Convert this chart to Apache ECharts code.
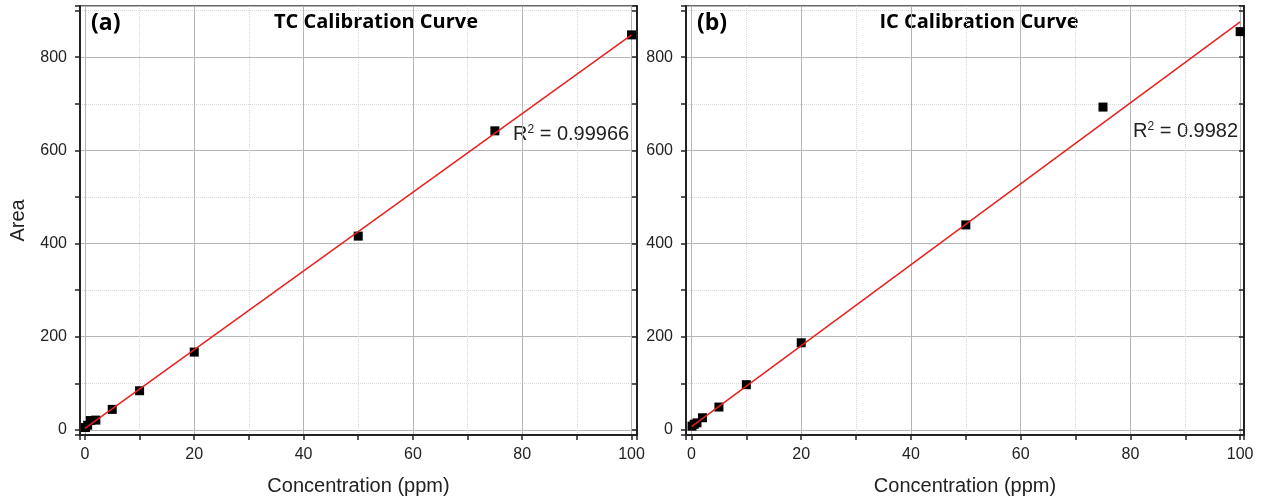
<!DOCTYPE html>
<html>
<head>
<meta charset="utf-8">
<script src="https://cdn.jsdelivr.net/npm/echarts@6/dist/echarts.min.js"></script>
<style>
  html, body { margin: 0; padding: 0; background: #fff; }
  #chart { width: 1264px; height: 502px; }
</style>
</head>
<body>
<div id="chart"></div>
<script>
// concentrations (ppm)
const conc = [0.1, 0.5, 1, 2, 5, 10, 20, 50, 75, 100]
// TC areas
const tcArea = [5, 10, 20, 21, 44, 84, 167, 416, 642, 848]
// IC areas
const icArea = [8, 12, 15, 26, 49, 97, 187, 440, 693, 855]
// fitted lines, ends
const fitX = [0, 100]
const tcFitY = [3, 848]
const icFitY = [7, 876]
const titles = ['TC Calibration Curve', 'IC Calibration Curve']
const tags = ['(a)', '(b)']
const r2 = ['0.99966', '0.9982']

const font = '"Liberation Sans", Arial, sans-serif'
const titleFont = '"Open Sans", "Noto Sans", sans-serif'

function pairs(xs, ys) {
  return xs.map((x, i) => [x, ys[i]])
}

const grids = [
  { left: 80, top: 6, width: 557, height: 429 },
  { left: 686, top: 6, width: 558, height: 429 }
]

function xAxis(gi, min, max) {
  return [
    {
      type: 'value', gridIndex: gi, min: min, max: max,
      name: 'Concentration (ppm)', nameLocation: 'middle', nameGap: 41,
      nameTextStyle: { fontFamily: font, fontSize: 20, color: '#222' },
      axisLine: { show: true, onZero: false, lineStyle: { color: '#222', width: 2 } },
      axisTick: { show: true, length: 5, lineStyle: { color: '#222', width: 1.5 } },
      minorTick: { show: true, splitNumber: 2, length: 5, lineStyle: { color: '#222', width: 1.5 } },
      axisLabel: { fontFamily: font, fontSize: 16, color: '#222', margin: 12, showMinLabel: false, showMaxLabel: false,
        formatter: v => (v % 20 === 0 ? v : '') },
      splitLine: { show: true, lineStyle: { color: '#b5b5b5', width: 1 } },
      minorSplitLine: { show: true, lineStyle: { color: '#d8d8d8', type: 'dotted', width: 1 } }
    }
  ]
}

function yAxis(gi, showName) {
  return [
    {
      type: 'value', gridIndex: gi, min: -11, max: 910,
      name: showName ? 'Area' : '', nameLocation: 'middle', nameGap: 52,
      nameTextStyle: { fontFamily: font, fontSize: 20, color: '#222' },
      axisLine: { show: true, onZero: false, lineStyle: { color: '#222', width: 2 } },
      axisTick: { show: true, length: 5, lineStyle: { color: '#222', width: 1.5 } },
      minorTick: { show: true, splitNumber: 2, length: 5, lineStyle: { color: '#222', width: 1.5 } },
      axisLabel: { fontFamily: font, fontSize: 16, color: '#222', margin: 13, showMinLabel: false, showMaxLabel: false,
        formatter: v => (v % 200 === 0 ? v : '') },
      splitLine: { show: true, lineStyle: { color: '#b5b5b5', width: 1 } },
      minorSplitLine: { show: true, lineStyle: { color: '#d8d8d8', type: 'dotted', width: 1 } }
    },
    {
      // mirrored right frame with inward ticks
      type: 'value', gridIndex: gi, min: -11, max: 910, position: 'right',
      axisLine: { show: true, onZero: false, lineStyle: { color: '#222', width: 2 } },
      axisTick: { show: true, inside: true, length: 5, lineStyle: { color: '#222', width: 1.5 } },
      minorTick: { show: true, splitNumber: 2, length: 5, lineStyle: { color: '#222', width: 1.5 } },
      axisLabel: { show: false },
      splitLine: { show: false }
    }
  ]
}

function scatter(gi, ys) {
  return {
    type: 'scatter', xAxisIndex: gi, yAxisIndex: gi * 2, z: 3,
    symbol: 'rect', symbolSize: 9, itemStyle: { color: '#000', opacity: 1 },
    data: pairs(conc, ys)
  }
}

function fit(gi, ys) {
  return {
    type: 'line', xAxisIndex: gi, yAxisIndex: gi * 2, z: 4,
    symbol: 'none', lineStyle: { color: '#e8201e', width: 1.5 },
    data: pairs(fitX, ys)
  }
}

const myChart = echarts.init(document.getElementById('chart'))
const r2Rich = {
  r: { font: '20px ' + font, fill: '#222' },
  s: { font: '12px ' + font, fill: '#222', verticalAlign: 'top', padding: [0, 0, 9, 0] }
}
myChart.setOption({
  animation: false,
  backgroundColor: '#fff',
  grid: grids.map(g => Object.assign({ show: true, borderColor: '#333', borderWidth: 1.5 }, g)),
  xAxis: [...xAxis(0, -0.9, 101), ...xAxis(1, -1, 100.7)],
  yAxis: [...yAxis(0, true), ...yAxis(1, false)],
  series: [scatter(0, tcArea), fit(0, tcFitY), scatter(1, icArea), fit(1, icFitY)],
  graphic: [
    { type: 'text', left: 91, top: 12, style: { text: tags[0], font: 'bold 23px ' + titleFont, fill: '#000' } },
    { type: 'text', left: 697, top: 12, style: { text: tags[1], font: 'bold 23px ' + titleFont, fill: '#000' } },
    { type: 'text', x: 376, y: 22, style: { text: titles[0], font: 'bold 20px ' + titleFont, fill: '#000', align: 'center', verticalAlign: 'middle' } },
    { type: 'text', x: 979, y: 22, style: { text: titles[1], font: 'bold 20px ' + titleFont, fill: '#000', align: 'center', verticalAlign: 'middle' } },
    { type: 'text', x: 513, y: 134, style: { text: '{r|R}{s|2}{r| = ' + r2[0] + '}', verticalAlign: 'middle', rich: r2Rich } },
    { type: 'text', x: 1133, y: 131, style: { text: '{r|R}{s|2}{r| = ' + r2[1] + '}', verticalAlign: 'middle', rich: r2Rich } }
  ]
})
</script>
</body>
</html>
